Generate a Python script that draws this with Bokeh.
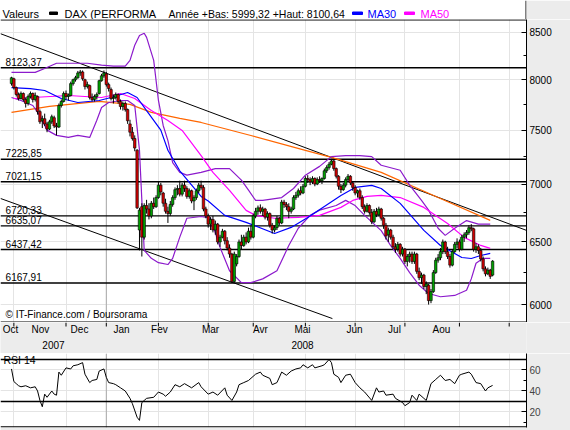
from bokeh.plotting import figure
from bokeh.layouts import column
from bokeh.models import (Range1d, FixedTicker, Label, Span, ColumnDataSource,
                          NumeralTickFormatter)
from bokeh.core.properties import value
from bokeh.embed import file_html
from bokeh.resources import INLINE

FONT = "Liberation Sans"
BG = "#ECECEC"

# ---------------- data (trading-day index 0 = 31 Oct 2007) ----------------
opens = [7960, 8010, 7920, 7850, 7810, 7860, 7800, 7760, 7830, 7860, 7800, 7830, 7680, 7590, 7610, 7560, 7510, 7580, 7620, 7540,
         7530, 7740, 7780, 7860, 7830, 7840, 7960, 8000, 8020, 8070, 8080, 8000, 7930, 7940, 7820, 7800, 7830, 7860, 7990, 8040,
         8060, 7950, 7900, 7810, 7820, 7850, 7780, 7730, 7760, 7700, 7560, 7480, 7420, 7310, 6600, 6800, 6540, 6810, 6780, 6720,
         6830, 6800, 6880, 6990, 6920, 6830, 6760, 6740, 6820, 6880, 6950, 6960, 6910, 6990, 6960, 6890, 6940, 6850, 6880, 6940,
         6990, 6970, 6780, 6720, 6650, 6690, 6600, 6650, 6500, 6540, 6590, 6510, 6450, 6400, 6180, 6320, 6380, 6500, 6470, 6540,
         6500, 6590, 6540, 6720, 6760, 6790, 6760, 6780, 6710, 6740, 6640, 6600, 6620, 6700, 6660, 6840, 6820, 6800, 6760, 6780,
         6880, 6900, 6940, 6920, 6980, 7050, 7040, 7020, 7050, 7000, 7040, 7030, 7050, 7120, 7150, 7180, 7210, 7140, 7070, 6980,
         6950, 6990, 7040, 7070, 7010, 6970, 6920, 6940, 6880, 6800, 6760, 6810, 6750, 6670, 6760, 6730, 6780, 6700, 6640, 6560,
         6600, 6540, 6460, 6440, 6480, 6400, 6440, 6340, 6380, 6400, 6340, 6400, 6260, 6210, 6230, 6140, 6150, 6030, 6100, 6250,
         6350, 6370, 6420, 6500, 6420, 6380, 6310, 6420, 6480, 6500, 6440, 6540, 6560, 6580, 6620, 6610, 6440, 6460, 6430, 6360,
         6280, 6240, 6270, 6230]
highs = [8030, 8020, 7930, 7870, 7880, 7870, 7820, 7850, 7880, 7870, 7870, 7840, 7700, 7640, 7660, 7580, 7600, 7650, 7640, 7570,
         7760, 7800, 7880, 7890, 7860, 7980, 8010, 8040, 8090, 8100.64, 8095, 8010, 7980, 7950, 7860, 7850, 7870, 8000, 8060, 8095,
         8080, 7970, 7920, 7850, 7870, 7860, 7800, 7780, 7780, 7710, 7600, 7530, 7450, 7320, 6790, 6830, 6830, 6860, 6830, 6850,
         6880, 6900, 7020, 7010, 6930, 6870, 6800, 6850, 6900, 6970, 6990, 7030, 7010, 7030, 6980, 6960, 6950, 6900, 6960, 7010,
         7030, 6990, 6800, 6740, 6710, 6720, 6680, 6660, 6560, 6610, 6600, 6540, 6480, 6410, 6420, 6400, 6520, 6560, 6560, 6580,
         6620, 6640, 6740, 6790, 6810, 6820, 6800, 6790, 6760, 6750, 6660, 6640, 6720, 6710, 6860, 6860, 6840, 6830, 6800, 6900,
         6930, 6960, 6980, 7000, 7070, 7080, 7060, 7070, 7060, 7060, 7070, 7060, 7140, 7170, 7200, 7230, 7220, 7150, 7080, 7000,
         7010, 7060, 7090, 7080, 7020, 6990, 6950, 6960, 6900, 6820, 6830, 6820, 6780, 6780, 6790, 6800, 6790, 6710, 6660, 6620,
         6610, 6560, 6490, 6500, 6490, 6460, 6450, 6400, 6420, 6420, 6420, 6410, 6290, 6250, 6240, 6180, 6160, 6120, 6270, 6370,
         6400, 6450, 6520, 6510, 6460, 6400, 6440, 6500, 6530, 6520, 6560, 6580, 6600, 6640, 6650, 6620, 6490, 6480, 6450, 6380,
         6300, 6290, 6280, 6350]
lows = [7940, 7900, 7830, 7790, 7800, 7780, 7720, 7740, 7810, 7770, 7780, 7650, 7560, 7520, 7540, 7480, 7500, 7560, 7520, 7450,
        7520, 7720, 7770, 7800, 7790, 7830, 7940, 7980, 8010, 8040, 7990, 7900, 7910, 7800, 7780, 7780, 7800, 7850, 7980, 8020,
        7930, 7880, 7790, 7760, 7800, 7760, 7700, 7690, 7680, 7560, 7440, 7400, 7300, 6780, 6430, 6380, 6520, 6740, 6690, 6700,
        6780, 6790, 6870, 6900, 6800, 6740, 6660, 6720, 6800, 6860, 6900, 6890, 6890, 6930, 6870, 6870, 6830, 6770, 6860, 6920,
        6950, 6760, 6700, 6620, 6600, 6580, 6560, 6480, 6460, 6530, 6480, 6430, 6370, 6167.91, 6170, 6300, 6370, 6440, 6460, 6480,
        6490, 6520, 6530, 6700, 6730, 6740, 6720, 6690, 6680, 6620, 6570, 6580, 6600, 6640, 6650, 6790, 6770, 6700, 6740, 6770,
        6860, 6880, 6900, 6910, 6970, 7010, 6990, 7000, 6980, 6990, 7010, 7000, 7040, 7100, 7130, 7170, 7120, 7050, 6950, 6920,
        6940, 6970, 7020, 6990, 6940, 6900, 6880, 6860, 6780, 6740, 6750, 6730, 6650, 6660, 6710, 6720, 6680, 6610, 6520, 6500,
        6520, 6440, 6410, 6420, 6380, 6380, 6320, 6300, 6330, 6320, 6320, 6240, 6190, 6160, 6120, 6080, 5999.32, 6010, 6090, 6240,
        6330, 6350, 6400, 6400, 6360, 6290, 6300, 6410, 6450, 6420, 6430, 6500, 6530, 6560, 6590, 6420, 6410, 6400, 6340, 6260,
        6220, 6230, 6200, 6220]
closes = [8020, 7920, 7850, 7810, 7860, 7800, 7760, 7830, 7860, 7800, 7840, 7680, 7580, 7610, 7560, 7510, 7580, 7630, 7540, 7530,
          7740, 7780, 7860, 7830, 7845, 7960, 8000, 8020, 8070, 8080, 8010, 7930, 7950, 7820, 7800, 7830, 7850, 7990, 8040, 8070,
          7950, 7910, 7810, 7820, 7850, 7780, 7730, 7760, 7700, 7590, 7480, 7420, 7330, 6790, 6770, 6540, 6810, 6780, 6720, 6830,
          6800, 6880, 6990, 6930, 6830, 6760, 6740, 6820, 6880, 6950, 6960, 6910, 6990, 6960, 6890, 6940, 6850, 6880, 6940, 6990,
          6970, 6780, 6720, 6650, 6690, 6600, 6650, 6500, 6540, 6590, 6510, 6450, 6400, 6180, 6400, 6380, 6500, 6470, 6540, 6500,
          6590, 6540, 6720, 6760, 6790, 6760, 6780, 6710, 6740, 6640, 6600, 6620, 6700, 6660, 6840, 6820, 6800, 6760, 6780, 6880,
          6900, 6940, 6920, 6980, 7050, 7040, 7020, 7050, 7000, 7040, 7030, 7050, 7120, 7150, 7180, 7210, 7140, 7070, 6980, 6950,
          6990, 7040, 7070, 7010, 6970, 6920, 6940, 6880, 6800, 6760, 6810, 6750, 6670, 6760, 6730, 6780, 6700, 6640, 6550, 6600,
          6540, 6460, 6440, 6480, 6400, 6440, 6340, 6380, 6400, 6340, 6400, 6260, 6210, 6230, 6140, 6160, 6030, 6100, 6250, 6350,
          6370, 6420, 6500, 6420, 6380, 6310, 6420, 6480, 6500, 6440, 6540, 6560, 6580, 6620, 6610, 6440, 6460, 6430, 6360, 6280,
          6240, 6270, 6220, 6342.42]

ma30_idx = [0, 8, 14, 21, 28, 37, 42, 49, 53, 57, 63, 66, 71, 80, 83, 90, 99, 111, 118, 125, 139, 145, 152, 156, 164, 174,
            181, 190, 194, 198, 202]
ma30_val = [7920, 7910, 7890, 7810, 7770, 7790, 7820, 7870, 7820, 7690, 7500, 7310, 7120, 6890, 6850, 6725, 6665, 6571,
            6622, 6707, 6899, 6970, 6988, 6960, 6829, 6597, 6471, 6372, 6364, 6388, 6405]
ma50_idx = [1, 9, 24, 38, 46, 52, 59, 66, 72, 80, 85, 92, 99, 103, 111, 121, 130, 139, 144, 150, 156, 164, 174, 184, 191,
            198, 202]
ma50_val = [7810, 7820, 7840, 7820, 7860, 7810, 7691, 7594, 7497, 7260, 7105, 6944, 6768, 6725, 6700, 6707, 6725, 6794,
            6855, 6890, 6899, 6880, 6794, 6655, 6538, 6471, 6447]
long_ma_idx = [0, 16, 37, 50, 59, 71, 80, 101, 124, 135, 156, 180, 202]
long_ma_val = [7672, 7731, 7781, 7751, 7672, 7613, 7574, 7449, 7308, 7243, 7105, 6880, 6682]
bb_up_idx = [0, 10, 14, 19, 24, 32, 38, 43, 48, 50, 52, 54, 56, 57, 60, 62, 64, 66, 68, 71, 74, 80, 86, 92, 97, 100, 103,
             106, 114, 119, 124, 130, 135, 141, 147, 152, 156, 164, 168, 173, 176, 180, 183, 187, 192, 197, 202]
bb_up_val = [8075, 8075, 8115, 8170, 8170, 8170, 8150, 8140, 8140, 8200, 8360, 8465, 8490, 8445, 8200, 7790, 7545, 7400,
             7195, 7105, 7080, 7105, 7140, 7140, 7035, 6945, 6855, 6855, 6880, 6960, 7080, 7160, 7250, 7260, 7260, 7250, 7170,
             7125, 6990, 6855, 6770, 6615, 6555, 6615, 6680, 6650, 6650]
bb_lo_idx = [0, 4, 9, 12, 15, 19, 24, 28, 33, 36, 38, 41, 46, 49, 52, 54, 56, 59, 62, 66, 68, 71, 74, 80, 84, 88, 92, 97,
             101, 106, 112, 117, 121, 126, 130, 137, 141, 145, 149, 156, 160, 164, 168, 172, 176, 181, 187, 192, 194, 196,
             199, 202]
bb_lo_val = [7820, 7790, 7740, 7640, 7500, 7450, 7430, 7450, 7430, 7595, 7720, 7770, 7790, 7790, 7740, 7310, 6430, 6365,
             6330, 6315, 6365, 6540, 6700, 6715, 6700, 6455, 6265, 6170, 6170, 6200, 6265, 6470, 6615, 6725, 6770, 6810, 6855,
             6810, 6725, 6595, 6470, 6365, 6250, 6150, 6085, 6060, 6070, 6110, 6200, 6325, 6365, 6365]

rsi_idx = [0, 1, 2, 3, 4, 6, 8, 10, 11, 12, 13, 14, 15, 17, 18, 19, 20, 21, 23, 25, 26, 28, 30, 31, 33, 34, 36, 37, 39,
           40, 41, 43, 44, 46, 48, 50, 51, 53, 54, 55, 56, 57, 60, 62, 64, 65, 67, 69, 71, 73, 76, 79, 80, 83, 85, 87, 90,
           91, 93, 95, 96, 98, 100, 103, 105, 106, 109, 110, 112, 114, 116, 118, 120, 122, 123, 125, 127, 128, 131, 132,
           134, 135, 136, 138, 139, 141, 143, 145, 147, 149, 152, 154, 155, 157, 158, 161, 162, 165, 166, 168, 169, 171,
           172, 174, 175, 177, 179, 181, 183, 185, 187, 189, 190, 193, 194, 196, 198, 200, 201, 203]
rsi_val = [61, 49, 47, 45, 44, 45, 43, 44, 40, 31, 25, 37, 34, 40, 37, 36, 58, 55, 62, 61, 64, 65, 67, 56, 48, 50, 51, 59,
           61, 53, 48, 47, 46, 43, 40, 33, 28, 15, 12, 29, 31, 33, 34, 39, 37, 35, 39, 46, 44, 47, 43, 48, 44, 37, 39, 36,
           43, 36, 31, 39, 46, 48, 50, 56, 58, 55, 52, 46, 48, 58, 55, 59, 61, 62, 65, 62, 65, 62, 64, 65, 70, 67, 56, 53,
           48, 55, 56, 48, 43, 39, 31, 43, 39, 40, 36, 37, 33, 29, 26, 29, 36, 31, 37, 33, 31, 47, 51, 55, 50, 51, 47, 55,
           56, 58, 56, 48, 47, 40, 43, 45.3225]

levels = [8123.37, 7225.85, 7021.15, 6720.33, 6635.07, 6437.42, 6167.91]
level_labels = ["8123,37", "7225,85", "7021,15", "6720,33", "6635,07", "6437,42", "6167,91"]

trend_hi_idx = [-4.64, 217.3]
trend_hi_val = [8485, 6597]
trend_lo_idx = [-4.64, 135.4]
trend_lo_val = [6872, 5893]

price_ticks = [6000, 6500, 7000, 7500, 8000, 8500]
price_minor = [6250, 6750, 7250, 7750, 8250]
month_starts = [1, 23, 40, 62, 83, 102, 124, 145, 166, 189, 210]
year_start = 40
month_names = ["Oct", "Nov", "Dec", "Jan", "Fev", "Mar", "Avr", "Mai", "Jun", "Jul", "Aou"]
month_label_pos = [-0.4, 12.2, 28.7, 46.4, 62.4, 84, 105, 122.8, 144.7, 161.6, 181.4]
year_names = ["2007", "2008"]
year_label_pos = [17.7, 122.8]
last_close = 6342.42
last_rsi = 45.3225

PRICE_LO, PRICE_HI = 5863.4, 8640.6
RSI_LO, RSI_HI = 5.24, 75.7
X_RANGE = Range1d(-4.64, 217.3)

common = dict(toolbar_location=None, output_backend="svg", min_border_left=0, min_border_right=44)

# ---------------- legend bar ----------------
lg = figure(width=570, height=19, x_range=Range1d(0, 526), y_range=Range1d(0, 19),
            x_axis_location=None, y_axis_location=None, min_border_top=0, min_border_bottom=0,
            background_fill_color="white", border_fill_color=BG, outline_line_color=None, **common)
lg.xgrid.visible = False
lg.ygrid.visible = False
txt = dict(text_font=value(FONT), text_font_size="11px", text_baseline="middle")
lg.text(x=[2], y=[5.5], text=["Valeurs"], text_color="black", **txt)
lg.quad(left=[49], right=[57], bottom=[5], top=[7.5], color="black")
lg.text(x=[64], y=[5.5], text=["DAX (PERFORMA"], text_color="black", **txt)
lg.text(x=[168], y=[5.5], text=["Année +Bas: 5999,32 +Haut: 8100,64"], text_color="black",
        text_font=value(FONT), text_font_size="10.5px", text_baseline="middle")
lg.quad(left=[352], right=[362], bottom=[5], top=[7.5], color="blue")
lg.text(x=[367], y=[5.5], text=["MA30"], text_color="blue", **txt)
lg.quad(left=[404], right=[414], bottom=[5], top=[7.5], color="magenta")
lg.text(x=[420], y=[5.5], text=["MA50"], text_color="magenta", **txt)
lg.add_layout(Span(location=525.5, dimension="height", line_color="black", line_width=1))

# ---------------- main price chart ----------------
p = figure(width=570, height=303, x_range=X_RANGE, y_range=Range1d(PRICE_LO, PRICE_HI), y_axis_type="log",
           y_axis_location="right", x_axis_location=None, min_border_top=0, min_border_bottom=0,
           background_fill_color="white", border_fill_color=BG, outline_line_color=None, **common)
ya = p.yaxis[0]
ya.ticker = FixedTicker(ticks=price_ticks, minor_ticks=price_minor)
ya.formatter = NumeralTickFormatter(format="0")
ya.axis_line_color = "black"
ya.major_tick_in = 5
ya.major_tick_out = 0
ya.minor_tick_in = 3
ya.minor_tick_out = 0
ya.major_label_standoff = 3
ya.major_label_text_font = FONT
ya.major_label_text_font_size = "10px"
ya.major_label_text_color = "black"
p.ygrid.ticker = FixedTicker(ticks=price_ticks)
p.ygrid.grid_line_color = "#E4E4E4"
p.xgrid.ticker = FixedTicker(ticks=month_starts)
p.xgrid.grid_line_color = "#E4E4E4"
p.add_layout(Span(location=year_start, dimension="height", line_color="#A8A8A8", line_width=1, level="underlay"))
# frame top and bottom borders
p.add_layout(Span(location=PRICE_HI * 0.9994, dimension="width", line_color="black", line_width=1.2))
p.add_layout(Span(location=PRICE_LO * 1.0006, dimension="width", line_color="black", line_width=1.2))

for lv in levels:
    p.add_layout(Span(location=lv, dimension="width", line_color="black", line_width=1.4, level="underlay"))
p.text(x=[-2.5] * len(levels), y=levels, text=level_labels, text_font=value(FONT), text_font_size="10px",
       text_baseline="bottom", y_offset=-2, text_color="black")

p.line(trend_hi_idx, trend_hi_val, line_color="black", line_width=1)
p.line(trend_lo_idx, trend_lo_val, line_color="black", line_width=1)
p.line(long_ma_idx, long_ma_val, line_color="#FF6600", line_width=1.2)
p.line(bb_up_idx, bb_up_val, line_color="#8C1ACC", line_width=1.2)
p.line(bb_lo_idx, bb_lo_val, line_color="#8C1ACC", line_width=1.2)
p.line(ma50_idx, ma50_val, line_color="#FF00FF", line_width=1.2)
p.line(ma30_idx, ma30_val, line_color="#0000FF", line_width=1.2)

n = len(closes)
src = ColumnDataSource(dict(
    i=list(range(n)), h=highs, l=lows,
    top=[max(o, c) for o, c in zip(opens, closes)],
    bot=[min(o, c) for o, c in zip(opens, closes)],
    col=["#00A000" if c >= o else "#D00000" for o, c in zip(opens, closes)]))
p.segment(x0="i", y0="l", x1="i", y1="h", source=src, line_color="black", line_width=1)
p.vbar(x="i", width=1.05, top="top", bottom="bot", fill_color="col", line_color="black", line_width=0.6, source=src)

p.add_layout(Label(x=5, y=3, x_units="screen", y_units="screen", text="© IT-Finance.com / Boursorama",
                   text_font=FONT, text_font_size="10px", text_color="black"))
p.add_layout(Label(x=527, y=last_close, x_units="screen", y_units="data", text="6342,42",
                   text_font=FONT, text_font_size="10px", text_baseline="middle", text_color="black",
                   background_fill_color="#FFCC00", border_line_color="black", padding=3))

# ---------------- time axis strip ----------------
ax = figure(width=570, height=31, x_range=X_RANGE, y_range=Range1d(0, 31), x_axis_location=None,
            y_axis_location=None, min_border_top=0, min_border_bottom=0, background_fill_color=BG,
            border_fill_color=BG, outline_line_color=None, **common)
ax.xgrid.visible = False
ax.ygrid.visible = False
ax.segment(x0=month_starts, y0=[31] * len(month_starts), x1=month_starts, y1=[27] * len(month_starts),
           line_color="black", line_width=1)
ax.text(x=month_label_pos, y=[24] * len(month_names), text=month_names, text_font=value(FONT),
        text_font_size="10px", text_align="center", text_baseline="middle", text_color="black")
ax.text(x=year_label_pos, y=[9, 9], text=year_names, text_font=value(FONT), text_font_size="10px",
        text_align="center", text_baseline="middle", text_color="black")

# ---------------- RSI panel ----------------
r = figure(width=570, height=77, x_range=X_RANGE, y_range=Range1d(RSI_LO, RSI_HI), y_axis_location="right",
           x_axis_location=None, min_border_top=0, min_border_bottom=3, background_fill_color="white",
           border_fill_color=BG, outline_line_color=None, **common)
ra = r.yaxis[0]
ra.ticker = FixedTicker(ticks=[20, 40, 60], minor_ticks=[10, 30, 50, 70])
ra.axis_line_color = "black"
ra.major_tick_in = 5
ra.major_tick_out = 0
ra.minor_tick_in = 3
ra.minor_tick_out = 0
ra.major_label_standoff = 3
ra.major_label_text_font = FONT
ra.major_label_text_font_size = "10px"
r.ygrid.ticker = FixedTicker(ticks=[20, 40, 60])
r.ygrid.grid_line_color = "#E4E4E4"
r.xgrid.ticker = FixedTicker(ticks=month_starts)
r.xgrid.grid_line_color = "#E4E4E4"
r.add_layout(Span(location=year_start, dimension="height", line_color="#A8A8A8", line_width=1, level="underlay"))
r.add_layout(Span(location=70, dimension="width", line_color="black", line_width=1.4, level="underlay"))
r.add_layout(Span(location=30, dimension="width", line_color="black", line_width=1.4, level="underlay"))
r.add_layout(Span(location=RSI_LO + 0.5, dimension="width", line_color="black", line_width=1.2))
r.line(rsi_idx, rsi_val, line_color="black", line_width=1)
r.add_layout(Label(x=3, y=74.8, x_units="screen", y_units="data", text="RSI 14", text_font=FONT,
                   text_font_size="10.5px", text_baseline="top", text_color="black"))
r.add_layout(Label(x=527, y=last_rsi, x_units="screen", y_units="data", text="45,3225",
                   text_font=FONT, text_font_size="10px", text_baseline="middle", text_color="black",
                   background_fill_color="#FFCC00", border_line_color="black", padding=2))

layout = column(lg, p, ax, r, spacing=0)
open("out.html", "w").write(file_html(layout, INLINE))
